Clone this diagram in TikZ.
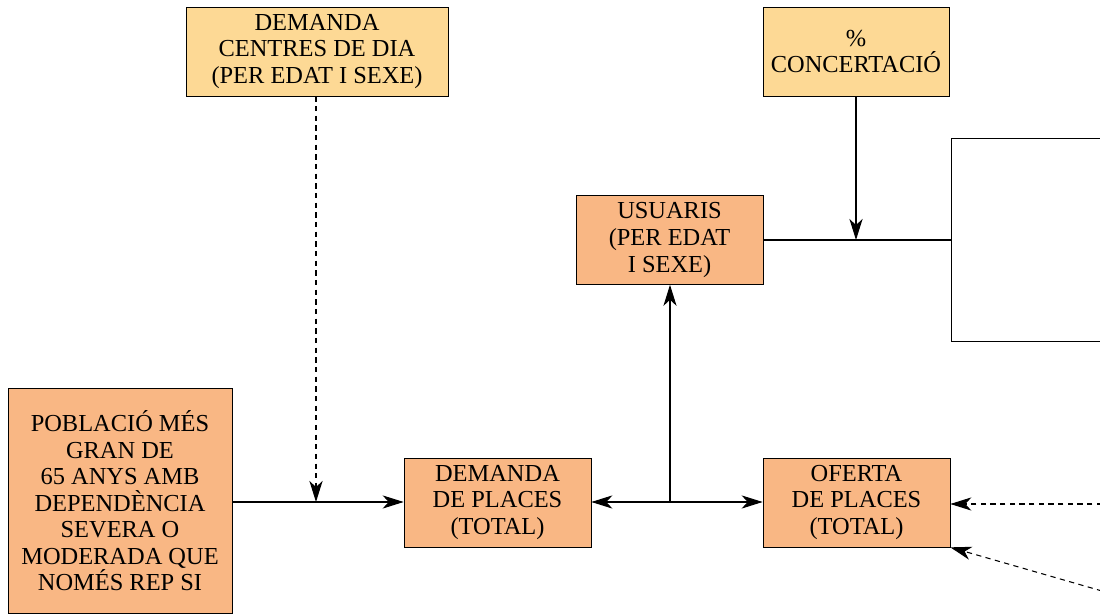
\documentclass[tikz,border=0pt]{standalone}
\usepackage{fontspec}
\setmainfont{Liberation Serif}
\usetikzlibrary{arrows.meta}
\definecolor{boxyel}{HTML}{FDD995}
\definecolor{boxsal}{HTML}{F9B784}
\begin{document}
\begin{tikzpicture}[x=0.02cm,y=-0.02cm,
  every node/.style={draw,rectangle,align=center,inner sep=2pt,font=\fontsize{13.9}{15.1}\selectfont},
  yel/.style={fill=boxyel,minimum width=5.24cm,minimum height=1.78cm},
  sal/.style={fill=boxsal,minimum width=3.74cm,minimum height=1.78cm},
  arr/.style={-{Stealth[length=12pt,width=7.5pt,inset=3.5pt]},line width=0.6pt},
  dsh/.style={arr,dashed,dash pattern=on 3pt off 2.5pt}]
\clip (0,0) rectangle (1100,614);
\node[yel] (dcd) at (317,51.5) {DEMANDA\\CENTRES DE DIA\\(PER EDAT I SEXE)};
\node[yel,minimum width=3.72cm] (conc) at (856,51.5) {\%\\CONCERTACIÓ};
\node[sal] (usu) at (669.5,240) {USUARIS\\(PER EDAT\\I SEXE)};
\node[fill=white,minimum width=3.4cm,minimum height=4.06cm] (ext) at (1036,239.5) {};
\node[sal,minimum width=4.48cm,minimum height=4.5cm] (pob) at (120,501) {POBLACIÓ MÉS\\GRAN DE\\65 ANYS AMB\\DEPENDÈNCIA\\SEVERA O\\MODERADA QUE\\NOMÉS REP SI};
\node[sal] (dem) at (497.5,502.5) {DEMANDA\\DE PLACES\\(TOTAL)};
\node[sal] (ofe) at (856.5,502.5) {OFERTA\\DE PLACES\\(TOTAL)};
\coordinate (j1) at (316,502);
\coordinate (j2) at (670,502);
\coordinate (j3) at (856,240);
\coordinate (r1) at (1102,504);
\coordinate (r2) at (1102,591);
\draw[arr] (pob.east|-j1) -- (dem.west|-j1);
\draw[dsh] (dcd.south-|j1) -- (j1);
\draw[arr] (j2) -- (dem.east|-j2);
\draw[arr] (j2) -- (ofe.west|-j2);
\draw[arr] (j2) -- (usu.south-|j2);
\draw[line width=0.6pt] (usu.east) -- (ext.west|-usu.east);
\draw[arr] (conc.south) -- (j3);
\draw[dsh] (r1) -- (ofe.east|-r1);
\draw[dsh] (r2) -- (ofe.south east);
\end{tikzpicture}
\end{document}
